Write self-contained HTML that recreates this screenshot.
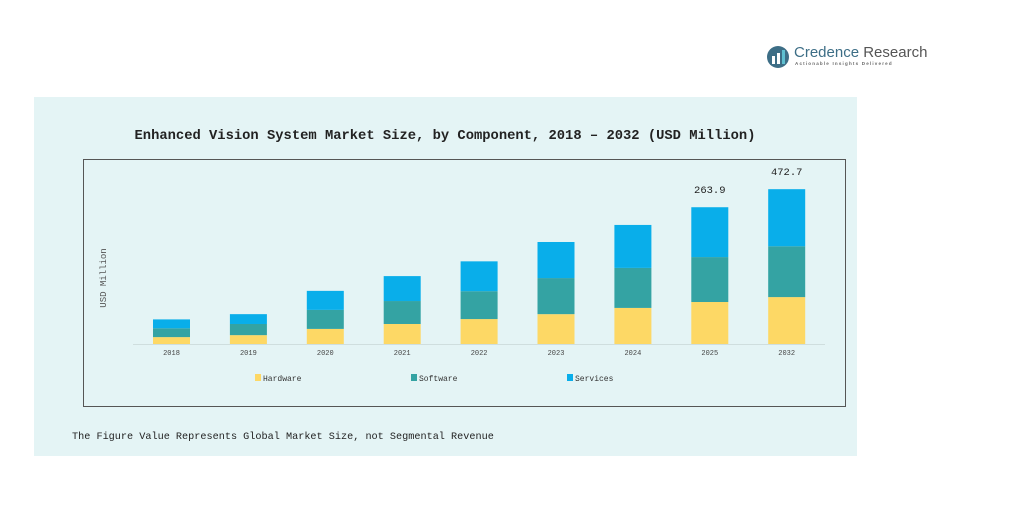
<!DOCTYPE html>
<html><head><meta charset="utf-8"><style>
body{margin:0;width:1026px;height:521px;background:#fff;position:relative;overflow:hidden;font-family:"Liberation Mono",monospace}
</style></head><body>
<div style="position:absolute;left:766px;top:44px;width:170px;height:28px">
<svg width="24" height="24" style="position:absolute;left:0;top:1px"><circle cx="12" cy="12" r="11" fill="#3d6e86"/><rect x="6" y="11" width="3" height="8" fill="#fff"/><rect x="11" y="8" width="3" height="11" fill="#fff"/><rect x="16" y="5" width="3" height="14" fill="#5fc0d0"/></svg>
<div style="position:absolute;left:28px;top:0;font:15px 'Liberation Sans',sans-serif;color:#3d6e86;white-space:nowrap">Credence <span style="color:#555">Research</span></div>
<div style="position:absolute;left:29px;top:17px;font:bold 4.5px 'Liberation Sans',sans-serif;letter-spacing:1.2px;color:#666;white-space:nowrap">Actionable Insights Delivered</div>
</div>
<div style="position:absolute;left:34px;top:97px;width:823px;height:359px;background:#e4f4f5"></div>
<svg id="chart" width="1026" height="521" style="position:absolute;left:0;top:0">
<text x="445" y="139" text-anchor="middle" font-family="Liberation Mono,monospace" font-size="13.8" font-weight="bold" fill="#222">Enhanced Vision System Market Size, by Component, 2018 – 2032 (USD Million)</text>
<rect x="83.5" y="159.5" width="762" height="247" fill="none" stroke="#555" stroke-width="1"/>
<line x1="133" y1="344.5" x2="825" y2="344.5" stroke="#cfdede"/>
<text transform="translate(106,278) rotate(-90)" text-anchor="middle" font-size="9" fill="#555">USD Million</text>
<text x="72" y="439" font-size="10.2" fill="#222">The Figure Value Represents Global Market Size, not Segmental Revenue</text>
<g id="bars"></g>
</svg>
<script>
const categories=["2018","2019","2020","2021","2022","2023","2024","2025","2032"];
const hardware=[21,27,46,61,76,91,110,128,143];
const software=[27,34,58,70,85,110,122,137,155];
const services=[27,30,58,76,91,110,131,152,174];
const totalLabels=["","","","","","","","263.9","472.7"];
const seriesNames=["Hardware","Software","Services"];
const colors=["#fdd865","#34a3a3","#09aeea"];
const NS="http://www.w3.org/2000/svg";
const g=document.getElementById("bars");
const baseY=344, pxPer=0.328, x0=171.5, step=76.9, bw=37;
const xs=i=>x0+i*step;
const ys=v=>v*pxPer;
function mk(t,a){const e=document.createElementNS(NS,t);for(const k in a)e.setAttribute(k,a[k]);g.appendChild(e);return e;}
const series=[hardware,software,services];
categories.forEach((c,i)=>{
 let y=baseY;
 series.forEach((s,j)=>{
  const h=ys(s[i]); y-=h;
  const r=mk("rect",{x:xs(i)-bw/2,y:y,width:bw,height:h,fill:colors[j]});
  
  
 });
 const t=mk("text",{x:xs(i),y:355,"text-anchor":"middle","font-size":"7",fill:"#444"});
 t.textContent=c;
 
 
 if(totalLabels[i]){
  const l=mk("text",{x:xs(i),y:y-14,"text-anchor":"middle","font-size":"10.5",fill:"#222"});
  l.textContent=totalLabels[i];
  
  
 }
});
const lx=[255,411,567];
seriesNames.forEach((n,j)=>{
 const r=mk("rect",{x:lx[j],y:374,width:6,height:7,fill:colors[j]});
 
 
 const t=mk("text",{x:lx[j]+8,y:381,"font-size":"8",fill:"#333"});
 t.textContent=n;
 
 
});
</script>
</body></html>
